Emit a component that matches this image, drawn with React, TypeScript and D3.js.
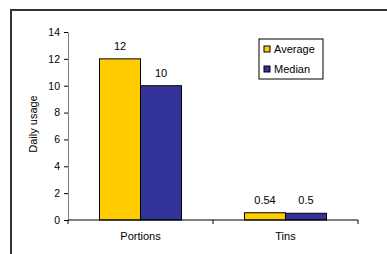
import React, { useEffect, useRef } from 'react';
import * as d3 from 'd3';

const categories = ['Portions', 'Tins'];
const seriesNames = ['Average', 'Median'];
const averageValues = [12, 0.54];
const medianValues = [10, 0.5];
const valueLabels = [['12', '0.54'], ['10', '0.5']];
const yTicks = [0, 2, 4, 6, 8, 10, 12, 14];
const colors = ['#FFCC00', '#333399'];

function App() {
    const ref = useRef<SVGSVGElement>(null);

    const width = 387;
    const height = 254;
    const marginLeft = 68;
    const marginRight = 29;
    const marginTop = 32;
    const marginBottom = 34;

    useEffect(() => {
        const svg = d3.select(ref.current);
        svg.selectAll('*').remove();

        const font = 'Liberation Sans, Arial, sans-serif';

        // outer frame (top and left edges only visible)
        svg.append('path')
            .attr('d', `M11,${height} L11,10 L${width},10`)
            .attr('fill', 'none')
            .attr('stroke', '#333')
            .attr('stroke-width', 2);

        const x = d3.scaleBand()
            .domain(categories)
            .range([marginLeft, width - marginRight]);

        const inner = d3.scaleBand()
            .domain(seriesNames)
            .range([0, 82]);

        const y = d3.scaleLinear()
            .domain([0, 14])
            .range([height - marginBottom, marginTop]);

        const data = [averageValues, medianValues];

        seriesNames.forEach((s, si) => {
            svg.append('g')
                .selectAll('rect')
                .data(categories)
                .join('rect')
                .attr('x', c => x(c)! + (x.bandwidth() - 82) / 2 + inner(s)!)
                .attr('y', (c, i) => y(data[si][i]))
                .attr('width', inner.bandwidth())
                .attr('height', (c, i) => y(0) - y(data[si][i]))
                .attr('fill', colors[si])
                .attr('stroke', '#000')
                .attr('stroke-width', 1);

            svg.append('g')
                .selectAll('text')
                .data(categories)
                .join('text')
                .attr('x', c => x(c)! + (x.bandwidth() - 82) / 2 + inner(s)! + inner.bandwidth() / 2)
                .attr('y', (c, i) => y(data[si][i]) - 9)
                .attr('text-anchor', 'middle')
                .attr('font-family', font)
                .attr('font-size', 11)
                .attr('fill', '#000')
                .text((c, i) => valueLabels[si][i]);
        });

        // y axis
        svg.append('g')
            .attr('transform', `translate(${marginLeft},0)`)
            .call(d3.axisLeft(y).tickValues(yTicks).tickSize(4).tickSizeOuter(0))
            .call(g => g.select('.domain').attr('stroke', '#808080'))
            .call(g => g.selectAll('.tick line').attr('stroke', '#000'))
            .call(g => g.selectAll('.tick text')
                .attr('font-family', font)
                .attr('font-size', 10.5)
                .attr('fill', '#000')
                .attr('x', -8));

        // x axis
        const xEdges = [marginLeft, x('Tins')!, width - marginRight];
        svg.append('line')
            .attr('x1', marginLeft)
            .attr('x2', width - marginRight)
            .attr('y1', y(0))
            .attr('y2', y(0))
            .attr('stroke', '#000');
        svg.append('g')
            .selectAll('line')
            .data(xEdges)
            .join('line')
            .attr('x1', d => d)
            .attr('x2', d => d)
            .attr('y1', y(0))
            .attr('y2', y(0) + 4)
            .attr('stroke', '#000');
        svg.append('g')
            .selectAll('text')
            .data(categories)
            .join('text')
            .attr('x', c => x(c)! + x.bandwidth() / 2)
            .attr('y', y(0) + 20)
            .attr('text-anchor', 'middle')
            .attr('font-family', font)
            .attr('font-size', 11)
            .text(c => c);

        svg.append('text')
            .attr('transform', `translate(37,124) rotate(-90)`)
            .attr('text-anchor', 'middle')
            .attr('font-family', font)
            .attr('font-size', 11)
            .text('Daily usage');

        // legend
        const legend = svg.append('g').attr('transform', 'translate(259,39)');
        legend.append('rect')
            .attr('width', 64)
            .attr('height', 40)
            .attr('fill', '#fff')
            .attr('stroke', '#000');
        legend.selectAll('rect.sw')
            .data(seriesNames)
            .join('rect')
            .attr('class', 'sw')
            .attr('x', 5)
            .attr('y', (d, i) => 7 + i * 20)
            .attr('width', 6)
            .attr('height', 6)
            .attr('fill', (d, i) => colors[i])
            .attr('stroke', '#000');
        legend.selectAll('text')
            .data(seriesNames)
            .join('text')
            .attr('x', 15)
            .attr('y', (d, i) => 14 + i * 20)
            .attr('font-family', font)
            .attr('font-size', 11)
            .text(d => d);
    }, []);

    return (
        <svg ref={ref} width={width} height={height}
             style={{ position: 'absolute', left: 0, top: 0 }} />
    );
}

export default App;
